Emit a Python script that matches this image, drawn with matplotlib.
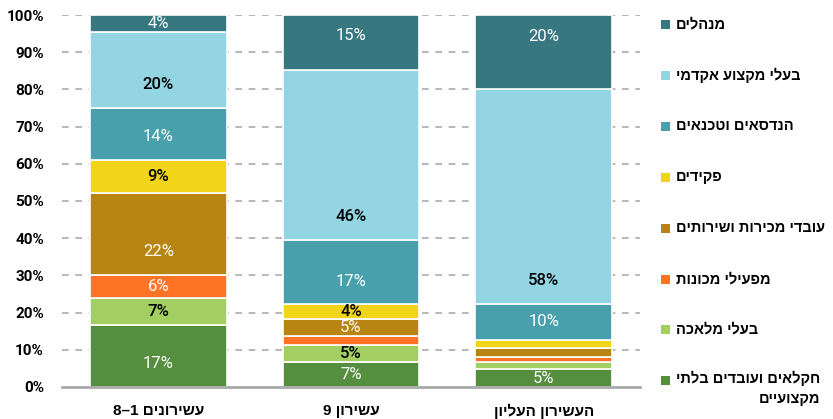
import numpy as np
import matplotlib
matplotlib.use('Agg')
import matplotlib.pyplot as plt
from matplotlib.patches import Rectangle


def rtl(s):
    # matplotlib has no bidi support: reverse Hebrew for visual order
    return s[::-1]


groups = ['עשירונים 1–8', 'עשירון 9', 'העשירון העליון']

# bottom to top
categories = ['חקלאים ועובדים בלתי מקצועיים', 'בעלי מלאכה', 'מפעילי מכונות',
              'עובדי מכירות ושירותים', 'פקידים', 'הנדסאים וטכנאים',
              'בעלי מקצוע אקדמי', 'מנהלים']
colors = ['#548e3e', '#a3cf62', '#ff7325', '#b88412', '#f0d51b', '#48a0ad',
          '#93d5e3', '#377880']
label_colors = ['white', 'black', 'white', 'white', 'black', 'white', 'black', 'white']

unskilled = [16.6, 6.6, 4.8]
craft = [7.4, 4.6, 2.0]
machine = [6.2, 2.4, 1.3]
sales = [22.0, 4.6, 2.3]
clerks = [8.9, 4.0, 2.3]
technicians = [14.0, 17.3, 9.6]
academic = [20.4, 45.6, 57.7]
managers = [4.4, 15.0, 19.9]

series = [unskilled, craft, machine, sales, clerks, technicians, academic, managers]

fig = plt.figure(figsize=(8.33, 4.19), dpi=100)
ax = fig.add_axes([0.0744, 0.0764, 0.6939, 0.8878])

x = np.arange(len(groups))
bottom = np.zeros(len(groups))
for k, (vals, c) in enumerate(zip(series, colors)):
    vals = np.array(vals)
    ax.bar(x, vals, 0.71, bottom=bottom, color=c, edgecolor='white', linewidth=1.2, zorder=3)
    for i in range(len(groups)):
        v = vals[i]
        if round(v) < 4:
            continue
        if k == len(series) - 1:
            y = bottom[i] + v - min(v / 2, 5.7)
        else:
            y = bottom[i] + min(v / 2, 6.2)
        fw = 'medium' if label_colors[k] == 'black' else 'normal'
        ax.text(x[i], y, f'{round(v)}%', ha='center', va='center', color=label_colors[k],
                fontsize=12, fontfamily='Roboto', fontweight=fw, zorder=4)
    bottom += vals

ax.set_xlim(-0.5, 2.5)
ax.set_ylim(0, 100)
ax.set_yticks(np.arange(0, 101, 10))
ax.set_yticklabels([f'{t}%' for t in range(0, 101, 10)], fontfamily='Roboto',
                   fontweight='bold', fontsize=11)
ax.set_xticks(x)
ax.set_xticklabels([rtl(g) for g in groups], fontfamily=['Liberation Sans', 'DejaVu Sans'],
                   fontweight='bold', fontsize=11)
ax.tick_params(axis='y', length=0, pad=13)
ax.tick_params(axis='x', length=0, pad=12)

for t in range(10, 101, 10):
    ax.axhline(t, color='#aaaaaa', lw=1.2, ls=(0, (4, 4)), zorder=1)
for s in ['top', 'right', 'left']:
    ax.spines[s].set_visible(False)
ax.spines['bottom'].set_color('#aaaaaa')
ax.spines['bottom'].set_linewidth(2)
ax.spines['bottom'].set_zorder(5)

# legend, top to bottom
W, H = 833, 419
row_y = [24, 75, 126, 177, 228, 279, 329, 380]
for j, k in enumerate(range(len(categories) - 1, -1, -1)):
    yc = row_y[j]
    fig.add_artist(Rectangle(((661) / W, 1 - (yc + 5) / H), 9 / W, 9 / H,
                             transform=fig.transFigure, color=colors[k], lw=0))
    name = categories[k]
    if k == 0:
        txt = rtl('חקלאים ועובדים בלתי') + '\n' + rtl('מקצועיים')
        fig.text(676 / W, 1 - (yc - 9) / H, txt, ha='left', va='top', multialignment='right',
                 fontsize=10.5, fontweight='bold', linespacing=1.55,
                 fontfamily=['Liberation Sans', 'DejaVu Sans'])
    else:
        fig.text(676 / W, 1 - yc / H, rtl(name), ha='left', va='center',
                 fontsize=10.5, fontweight='bold',
                 fontfamily=['Liberation Sans', 'DejaVu Sans'])

fig.savefig('out.png', dpi=100)
